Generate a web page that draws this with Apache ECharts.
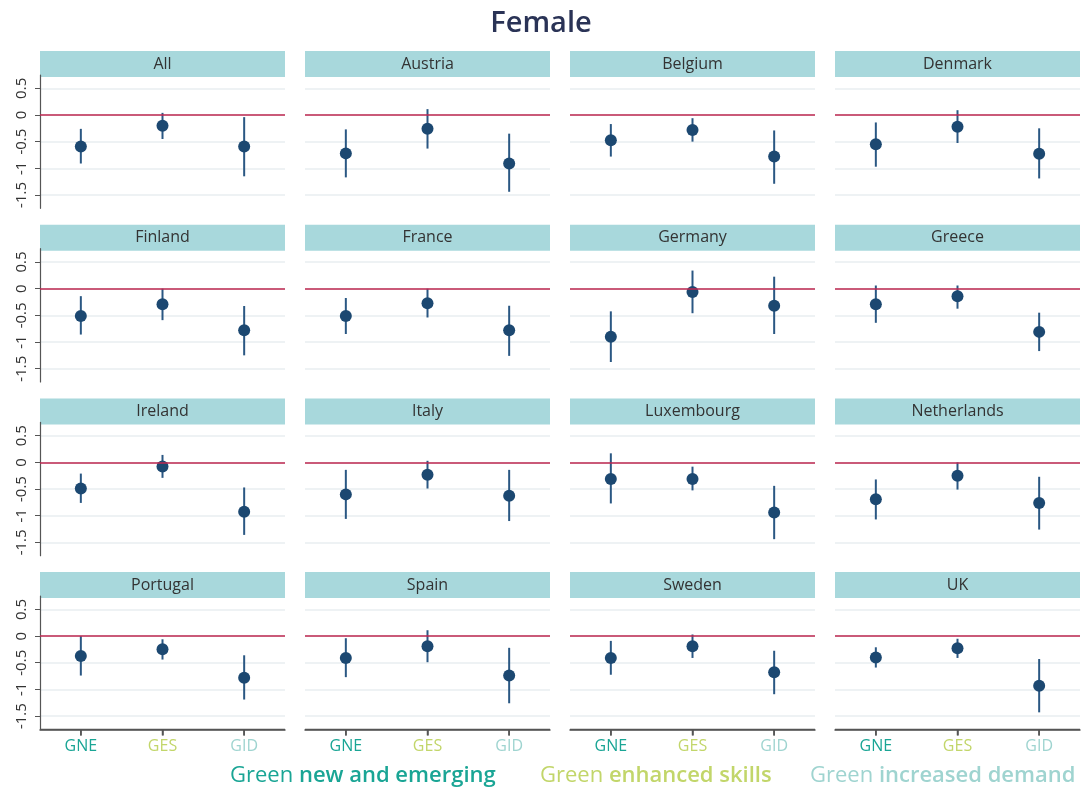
<!DOCTYPE html>
<html>
<head>
<meta charset="utf-8">
<script src="https://cdn.jsdelivr.net/npm/echarts@6/dist/echarts.min.js"></script>
<style>html,body{margin:0;padding:0;background:#fff}#c{width:1082px;height:794px}</style>
</head>
<body>
<div id="c"></div>
<script>
// ---- data ----
const chartTitle = 'Female';
const categories = ['GNE', 'GES', 'GID'];
const countries = ['All', 'Austria', 'Belgium', 'Denmark',
  'Finland', 'France', 'Germany', 'Greece',
  'Ireland', 'Italy', 'Luxembourg', 'Netherlands',
  'Portugal', 'Spain', 'Sweden', 'UK'];
// point estimates [GNE, GES, GID]
const estimate = [
  [-0.59, -0.20, -0.59], [-0.72, -0.26, -0.91], [-0.475, -0.28, -0.78], [-0.55, -0.22, -0.725],
  [-0.51, -0.29, -0.78], [-0.51, -0.275, -0.78], [-0.90, -0.06, -0.32], [-0.29, -0.14, -0.81],
  [-0.49, -0.075, -0.925], [-0.60, -0.23, -0.625], [-0.31, -0.31, -0.94], [-0.69, -0.25, -0.76],
  [-0.375, -0.245, -0.78], [-0.41, -0.19, -0.74], [-0.41, -0.19, -0.68], [-0.40, -0.23, -0.93]
];
// lower bound of confidence interval
const ciLow = [
  [-0.91, -0.45, -1.15], [-1.17, -0.63, -1.44], [-0.78, -0.50, -1.29], [-0.97, -0.525, -1.19],
  [-0.86, -0.59, -1.25], [-0.85, -0.54, -1.26], [-1.375, -0.46, -0.85], [-0.64, -0.375, -1.17],
  [-0.76, -0.29, -1.36], [-1.06, -0.49, -1.10], [-0.77, -0.525, -1.44], [-1.07, -0.51, -1.26],
  [-0.74, -0.44, -1.19], [-0.77, -0.49, -1.26], [-0.725, -0.41, -1.09], [-0.59, -0.41, -1.43]
];
// upper bound of confidence interval
const ciHigh = [
  [-0.26, 0.04, -0.04], [-0.27, 0.11, -0.35], [-0.17, -0.06, -0.29], [-0.14, 0.09, -0.25],
  [-0.14, 0.0, -0.325], [-0.175, 0.0, -0.32], [-0.425, 0.34, 0.225], [0.06, 0.06, -0.45],
  [-0.21, 0.14, -0.47], [-0.14, 0.03, -0.14], [0.17, -0.08, -0.44], [-0.32, 0.0, -0.27],
  [0.0, -0.06, -0.36], [-0.04, 0.11, -0.22], [-0.09, 0.03, -0.275], [-0.21, -0.05, -0.43]
];
const yTickValues = [-1.5, -1, -0.5, 0, 0.5];
const yMin = -1.75, yMax = 0.75;
const legendParts = [
  ['Green ', 'new and emerging'],
  ['Green ', 'enhanced skills'],
  ['Green ', 'increased demand']
];

// ---- styling / layout ----
const catColors = ['#1aa595', '#c2d66a', '#9fd4d0'];
const FONT = '"Open Sans", "Noto Sans", sans-serif';
const dotColor = '#1c4871';
const barColor = '#2a5783';
const zeroColor = '#be2750';
const stripColor = '#a8d8dc';
const gridColor = '#e8eef0';
const axisColor = '#555';
const left0 = 40, colStep = 265, panelW = 245;
const top0 = 75, rowStep = 173.7, gridH = 133.3;

const grids = [], xAxes = [], yAxes = [], series = [], graphics = [];

countries.forEach((name, i) => {
  const r = Math.floor(i / 4), c = i % 4;
  const left = left0 + c * colStep;
  const top = top0 + r * rowStep;
  const bottomRow = r === 3, firstCol = c === 0;
  grids.push({ left: left, top: top, width: panelW, height: gridH });
  xAxes.push({
    type: 'category', gridIndex: i, data: categories, boundaryGap: true,
    axisLine: { show: bottomRow, onZero: false, lineStyle: { color: axisColor, width: 1.5 } },
    axisTick: { show: bottomRow, alignWithLabel: true, length: 6, lineStyle: { color: axisColor, width: 1.5 } },
    axisLabel: {
      show: bottomRow, fontFamily: FONT, fontSize: 16, margin: 9,
      color: (v) => catColors[categories.indexOf(v)]
    },
    splitLine: { show: false }
  });
  yAxes.push({
    type: 'value', gridIndex: i, min: yMin, max: yMax, interval: 0.25,
    axisLine: { show: firstCol, onZero: false, lineStyle: { color: axisColor, width: 1.2 } },
    axisTick: { show: firstCol, length: 5, customValues: yTickValues, lineStyle: { color: axisColor } },
    axisLabel: {
      show: firstCol, rotate: 90, fontFamily: FONT, fontSize: 15, color: '#333', margin: 11,
      customValues: yTickValues,
      formatter: v => String(v)
    },
    splitLine: { show: true, lineStyle: { color: gridColor, width: 1.5 } }
  });
  // error bars
  series.push({
    type: 'custom', xAxisIndex: i, yAxisIndex: i, z: 3,
    data: categories.map((cat, k) => [k, ciLow[i][k], ciHigh[i][k]]),
    renderItem: (params, api) => {
      const p1 = api.coord([api.value(0), api.value(1)]);
      const p2 = api.coord([api.value(0), api.value(2)]);
      return { type: 'line', shape: { x1: p1[0], y1: p1[1], x2: p2[0], y2: p2[1] },
        style: { stroke: barColor, lineWidth: 2 } };
    }
  });
  // bottom axis baseline with ticks (bottom row), placed via the axes' own scales
  if (bottomRow) {
    series.push({
      type: 'custom', xAxisIndex: i, yAxisIndex: i, z: 6, clip: false, silent: true,
      data: categories.map((cat, k) => [k, yMin]),
      renderItem: (params, api) => {
        const p = api.coord([api.value(0), api.value(1)]);
        const cs = params.coordSys;
        const children = [{ type: 'line', shape: { x1: p[0], y1: p[1], x2: p[0], y2: p[1] + 6 },
          style: { stroke: axisColor, lineWidth: 1.5 } }];
        if (params.dataIndex === 0) {
          children.push({ type: 'line', shape: { x1: cs.x, y1: p[1], x2: cs.x + cs.width, y2: p[1] },
            style: { stroke: axisColor, lineWidth: 1.5 } });
        }
        return { type: 'group', children: children };
      }
    });
  }
  // points + zero line
  series.push({
    type: 'scatter', xAxisIndex: i, yAxisIndex: i, z: 4,
    symbolSize: 12, itemStyle: { color: dotColor, opacity: 1 },
    data: estimate[i].map((v, k) => [k, v]),
    markLine: {
      silent: true, symbol: 'none', label: { show: false },
      lineStyle: { color: zeroColor, width: 1.5, type: 'solid' },
      data: [{ yAxis: 0 }]
    }
  });
  // strip
  graphics.push({
    type: 'group', left: left, top: top - 24, z: 10,
    children: [
      { type: 'rect', shape: { x: 0, y: 0, width: panelW, height: 26 }, style: { fill: stripColor } },
      { type: 'text', x: panelW / 2, y: 13,
        style: { text: name, fill: '#333', font: '16px ' + FONT, align: 'center', verticalAlign: 'middle' } }
    ]
  });
});

// legend text
const legendX = [230, 540, 810];
legendParts.forEach((p, k) => {
  graphics.push({
    type: 'text', left: legendX[k], top: 765, z: 10,
    style: {
      text: '{a|' + p[0] + '}{b|' + p[1] + '}',
      rich: {
        a: { fill: catColors[k], fontFamily: FONT, fontSize: 22 },
        b: { fill: catColors[k], fontFamily: FONT, fontSize: 22, fontWeight: 600 }
      }
    }
  });
});

const chart = echarts.init(document.getElementById('c'), null, { renderer: 'canvas' });
chart.setOption({
  animation: false,
  backgroundColor: '#fff',
  title: { text: chartTitle, left: 'center', top: 4,
    textStyle: { fontFamily: FONT, fontSize: 29, fontWeight: 600, color: '#2a3356' } },
  grid: grids, xAxis: xAxes, yAxis: yAxes, series: series, graphic: graphics
});
</script>
</body>
</html>
